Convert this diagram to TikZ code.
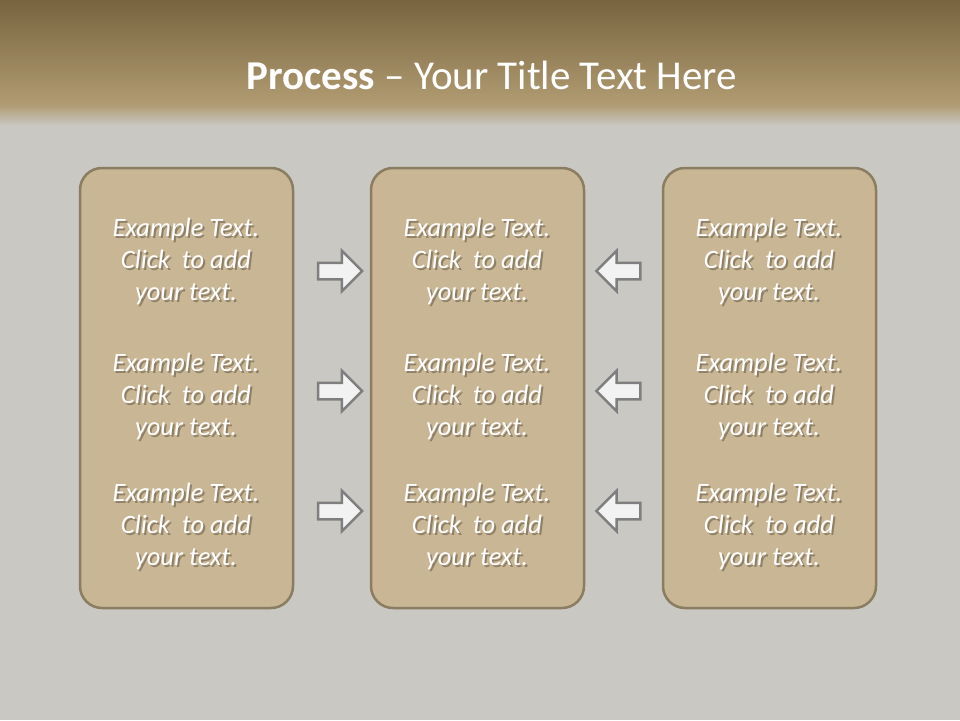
\documentclass[tikz,border=0pt]{standalone}
\usepackage{fontspec}
\setmainfont{Carlito}
\usetikzlibrary{shapes.arrows, calc}

\definecolor{bandtop}{HTML}{78643F}
\definecolor{bandlow}{HTML}{B19C73}
\definecolor{slidegray}{HTML}{C9C8C3}
\definecolor{boxfill}{HTML}{C9B695}
\definecolor{boxline}{HTML}{8B7D62}
\definecolor{arrowline}{HTML}{7F7F7F}
\definecolor{arrowfill}{HTML}{F2F2F2}
\definecolor{textshade}{HTML}{5E5442}

\tikzset{
  panel/.style={draw=boxline, line width=2.5pt, fill=boxfill, rounded corners=22pt,
    minimum width=213pt, minimum height=440pt, inner sep=0pt},
  blockarrow/.style={single arrow, draw=arrowline, line width=2.5pt, fill=arrowfill,
    inner sep=7pt, single arrow head extend=12pt, minimum height=44pt},
  toright/.style={blockarrow, shape border rotate=0},
  toleft/.style={blockarrow, shape border rotate=180},
  textshadow/.style={text=textshade, opacity=0.55, align=center, font=\itshape\fontsize{26.5}{32}\selectfont},
  example/.style={text=white, align=center, font=\itshape\fontsize{26.5}{32}\selectfont}
}

% text with a soft drop shadow
\newcommand{\sampletext}[2]{%
  \node[textshadow] at ($(#1)+(2,2.5)$) {Example Text.\\Click~ to add\\your text.};
  \node[example] (#2) at (#1) {Example Text.\\Click~ to add\\your text.};
}

\begin{document}
\begin{tikzpicture}[x=1pt, y=-1pt]

% Slide background
\fill[slidegray] (0,0) rectangle (960,720);
\useasboundingbox (0,0) rectangle (960,720);

% Title band (brown gradient)
\shade[top color=bandtop, bottom color=bandlow] (0,0) rectangle (960,106);
\shade[top color=bandlow, bottom color=slidegray] (0,105) rectangle (960,126);

% Title
\node[text=white, font=\fontsize{41}{48}\selectfont] (title) at (492,75)
  {\textbf{Process} -- Your Title Text Here};

% Panels
\node[panel] (leftpanel) at (186.5,388) {};
\node[panel] (midpanel) at (477.5,388) {};
\node[panel] (rightpanel) at (769.5,388) {};

% Left panel texts
\sampletext{186,261}{lefta}
\sampletext{186,396}{leftb}
\sampletext{186,526}{leftc}

% Middle panel texts
\sampletext{477,261}{mida}
\sampletext{477,396}{midb}
\sampletext{477,526}{midc}

% Right panel texts
\sampletext{769,261}{righta}
\sampletext{769,396}{rightb}
\sampletext{769,526}{rightc}

% Arrows into the middle panel from the left
\node[toright] (arrowla) at (336,271) {};
\node[toright] (arrowlb) at (336,391) {};
\node[toright] (arrowlc) at (336,511) {};

% Arrows into the middle panel from the right
\node[toleft] (arrowra) at (622.5,271) {};
\node[toleft] (arrowrb) at (622.5,391) {};
\node[toleft] (arrowrc) at (622.5,511) {};

\end{tikzpicture}
\end{document}
